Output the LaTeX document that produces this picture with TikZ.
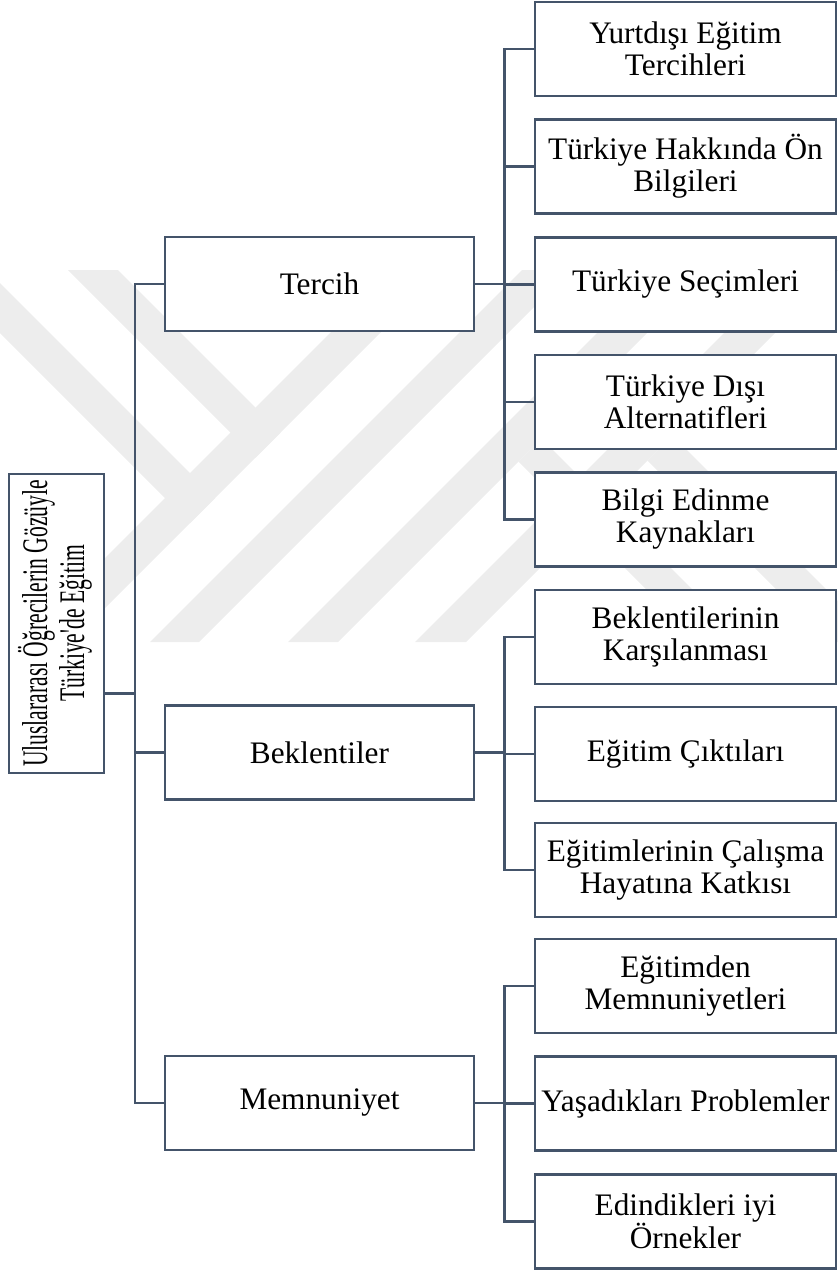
\documentclass[tikz,border=0pt]{standalone}
\usepackage{fontspec}
\setmainfont{Liberation Serif}[Ligatures=TeXOff]
\usepackage{graphicx}
\usepackage{tikz}
\definecolor{linec}{HTML}{44546A}
\definecolor{wmgray}{RGB}{237,237,237}
\tikzset{
    box/.style = {rectangle, draw=linec, line width=2.5pt, fill=white, align=center, inner sep=0pt},
    rootbox/.style = {box, minimum width=95pt, minimum height=299pt},
    midbox/.style = {box, minimum width=309pt, minimum height=94pt},
    leafbox/.style = {box, minimum width=301pt, minimum height=94pt},
}

\begin{document}
\begin{tikzpicture}[
	x=1pt, y=-1pt,
	font=\fontsize{31.3}{32}\selectfont
]
\tikzset{
    conn/.style = {-, draw=linec, line width=2.5pt},
    wmark/.style = {fill=wmgray, draw=none}
}
\useasboundingbox (0,0) rectangle (838,1270);
% watermark
\begin{scope}
\clip (0,270) rectangle (838,642);
\fill[wmark] (21,642) -- (71,642) -- (443,270) -- (393,270) -- cycle;
\fill[wmark] (150,642) -- (199,642) -- (571,270) -- (522,270) -- cycle;
\fill[wmark] (288,642) -- (338,642) -- (710,270) -- (660,270) -- cycle;
\fill[wmark] (415,642) -- (466,642) -- (838,270) -- (787,270) -- cycle;
\fill[wmark] (68,270) -- (118,270) -- (280.5,432.5) -- (255.5,457.5) -- cycle;
\fill[wmark] (0,283) -- (215,498) -- (190,523) -- (0,333) -- cycle;
\fill[wmark] (518.5,461.5) -- (541.5,438.5) -- (745,642) -- (699,642) -- cycle;
\fill[wmark] (647.5,460.5) -- (672.5,435.5) -- (879,642) -- (829,642) -- cycle;
\end{scope}
%
\node[rootbox] at (56.5,623.5) (root) {\rotatebox{90}{\scalebox{0.6}[1]{\fontsize{36}{37}\selectfont
  \begin{tabular}{@{}c@{}}Uluslararası Öğrecilerin Gözüyle\\Türkiye'de Eğitim\end{tabular}}}};
%
\node[midbox] at (319.5,284) (tercih) {Tercih};
\node[midbox] at (319.5,752.5) (beklentiler) {Beklentiler};
\node[midbox] at (319.5,1103) (memnuniyet) {Memnuniyet};
%
\node[leafbox] at (685.5,49) (yurtdisi) {Yurtdışı Eğitim\\Tercihleri};
\node[leafbox] at (685.5,166.5) (onbilgi) {Türkiye Hakkında Ön\\Bilgileri};
\node[leafbox] at (685.5,284.5) (secim) {Türkiye Seçimleri};
\node[leafbox] at (685.5,402) (alternatif) {Türkiye Dışı\\Alternatifleri};
\node[leafbox] at (685.5,519.5) (kaynak) {Bilgi Edinme\\Kaynakları};
\node[leafbox] at (685.5,637) (karsilanma) {Beklentilerinin\\Karşılanması};
\node[leafbox] at (685.5,754) (cikti) {Eğitim Çıktıları};
\node[leafbox] at (685.5,870) (katki) {Eğitimlerinin Çalışma\\Hayatına Katkısı};
\node[leafbox] at (685.5,986) (memnun) {Eğitimden\\Memnuniyetleri};
\node[leafbox] at (685.5,1103.5) (problem) {Yaşadıkları Problemler};
\node[leafbox] at (685.5,1221.5) (ornek) {Edindikleri iyi\\Örnekler};
%
\coordinate (ja) at (135,693.5);
\coordinate (jb) at (504.5,0);
%
\draw[conn] (root.east |- ja) -- (ja);
\draw[conn] (tercih.west) -| (ja) |- (memnuniyet.west);
\draw[conn] (beklentiler.west) -- (beklentiler.west -| ja);
%
\draw[conn] (tercih.east) -- (tercih.east -| jb);
\draw[conn] (yurtdisi.west) -- (yurtdisi.west -| jb) -- (kaynak.west -| jb) -- (kaynak.west);
\draw[conn] (onbilgi.west) -- (onbilgi.west -| jb);
\draw[conn] (secim.west) -- (secim.west -| jb);
\draw[conn] (alternatif.west) -- (alternatif.west -| jb);
%
\draw[conn] (beklentiler.east) -- (beklentiler.east -| jb);
\draw[conn] (karsilanma.west) -- (karsilanma.west -| jb) -- (katki.west -| jb) -- (katki.west);
\draw[conn] (cikti.west) -- (cikti.west -| jb);
%
\draw[conn] (memnuniyet.east) -- (memnuniyet.east -| jb);
\draw[conn] (memnun.west) -- (memnun.west -| jb) -- (ornek.west -| jb) -- (ornek.west);
\draw[conn] (problem.west) -- (problem.west -| jb);
\end{tikzpicture}
\end{document}
